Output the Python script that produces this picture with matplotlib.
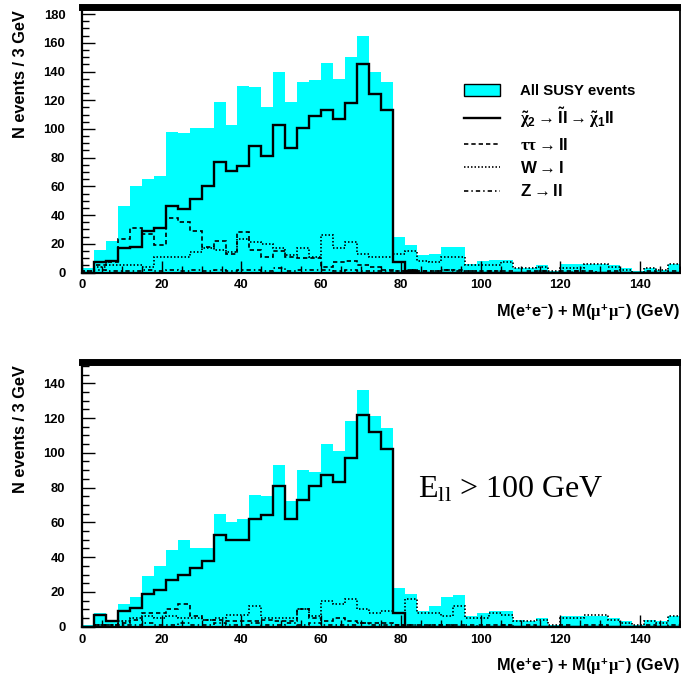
import numpy as np
import matplotlib
matplotlib.use('Agg')
import matplotlib.pyplot as plt
from matplotlib.patches import Patch
from matplotlib.lines import Line2D
from matplotlib.ticker import MultipleLocator

plt.rcParams['font.family'] = ['Liberation Sans', 'DejaVu Sans']
plt.rcParams['font.weight'] = 'bold'
plt.rcParams['mathtext.fontset'] = 'custom'
plt.rcParams['mathtext.rm'] = 'Liberation Sans:bold'
plt.rcParams['mathtext.bf'] = 'Liberation Sans:bold'
plt.rcParams['mathtext.it'] = 'Liberation Serif'
plt.rcParams['mathtext.sf'] = 'Liberation Sans:bold'

# ---------------- data (50 bins of 3 GeV, 0-150 GeV) ----------------
bin_width = 3
n_bins = 50

# Top panel: all events
top_all_susy = [3, 16, 22, 46, 60, 65, 67, 98, 97, 101, 101, 119, 103, 130, 129, 115, 140, 119, 133, 134,
                146, 135, 150, 165, 140, 133, 25, 19, 12, 13, 18, 18, 6, 8, 9, 9, 3, 3, 5, 1,
                6, 6, 6, 6, 5, 3, 1, 3, 2, 6]
top_chi2 = [0, 7, 8, 17, 18, 29, 31, 46, 44, 51, 60, 77, 71, 74, 88, 81, 103, 87, 101, 109,
            113, 107, 118, 145, 124, 113, 7, 1, 0, 0, 0, 0, 0, 0, 0, 0, 0, 0, 0, 0,
            0, 0, 0, 0, 0, 0, 0, 0, 0, 0]
top_tautau = [1, 5, 7, 23, 31, 27, 19, 38, 35, 29, 18, 22, 13, 28, 16, 11, 15, 11, 10, 10,
              4, 7, 8, 5, 4, 2, 1, 2, 1, 1, 2, 2, 1, 1, 1, 1, 0, 1, 1, 0,
              1, 1, 1, 0, 1, 0, 0, 1, 0, 1]
top_w = [1, 4, 5, 5, 5, 4, 11, 11, 11, 14, 17, 16, 14, 23, 21, 20, 17, 12, 17, 11,
         26, 17, 21, 13, 11, 11, 13, 15, 8, 7, 11, 11, 5, 5, 5, 7, 3, 3, 4, 1,
         3, 3, 6, 6, 4, 2, 0, 3, 2, 6]
top_z = [0, 2, 1, 1, 1, 2, 1, 2, 1, 2, 1, 2, 1, 2, 2, 1, 3, 1, 2, 2,
         2, 1, 2, 1, 1, 1, 1, 2, 1, 1, 2, 1, 1, 0, 1, 0, 0, 0, 1, 0,
         0, 1, 0, 0, 0, 0, 0, 0, 0, 0]

# Bottom panel: E_ll > 100 GeV
bot_all_susy = [1, 8, 4, 13, 17, 29, 35, 44, 50, 45, 45, 65, 60, 62, 76, 75, 93, 72, 90, 89,
                105, 101, 118, 136, 121, 114, 22, 19, 9, 12, 17, 18, 6, 8, 9, 9, 4, 3, 5, 1,
                6, 6, 6, 6, 5, 3, 1, 4, 3, 6]
bot_chi2 = [0, 7, 3, 9, 11, 19, 21, 27, 30, 34, 38, 53, 50, 50, 62, 64, 81, 62, 73, 81,
            87, 83, 97, 122, 112, 102, 8, 0, 0, 0, 0, 0, 0, 0, 0, 0, 0, 0, 0, 0,
            0, 0, 0, 0, 0, 0, 0, 0, 0, 0]
bot_tautau = [0, 1, 1, 2, 4, 8, 8, 10, 13, 6, 4, 4, 3, 3, 3, 4, 3, 3, 10, 5,
              3, 5, 3, 2, 2, 2, 1, 1, 1, 1, 1, 1, 0, 1, 1, 1, 0, 1, 0, 0,
              1, 0, 1, 1, 0, 0, 0, 1, 0, 1]
bot_w = [0, 1, 1, 3, 5, 6, 5, 6, 5, 5, 4, 5, 7, 7, 12, 5, 5, 5, 10, 6,
         15, 13, 16, 10, 8, 9, 8, 16, 8, 8, 6, 12, 5, 5, 8, 7, 3, 3, 4, 1,
         5, 5, 7, 7, 4, 2, 1, 3, 2, 6]
bot_z = [0, 1, 1, 1, 1, 2, 1, 1, 2, 1, 1, 2, 1, 1, 2, 1, 1, 2, 1, 2,
         1, 1, 1, 2, 1, 1, 1, 1, 0, 1, 1, 0, 1, 0, 0, 1, 0, 0, 0, 0,
         0, 0, 0, 0, 0, 0, 0, 0, 0, 0]

legend_labels = ['All SUSY events',
                 r'$\tilde{\chi}_{\mathbf{2}} \rightarrow \mathbf{\tilde{l}l} \rightarrow \tilde{\chi}_{\mathbf{1}}\mathbf{ll}$',
                 r'$\tau\tau \rightarrow \mathbf{ll}$',
                 r'$\mathbf{W} \rightarrow \mathbf{l}$',
                 r'$\mathbf{Z} \rightarrow \mathbf{ll}$']
xlabel = r'M(e$^{\mathbf{+}}$e$^{\mathbf{-}}$) + M($\mu^{\mathbf{+}}\mu^{\mathbf{-}}$) (GeV)'
ylabel = 'N events / 3 GeV'
annotation = r'E$_{\mathregular{ll}}$ > 100 GeV'

edges = np.arange(n_bins + 1) * bin_width

CYAN = '#00FFFF'
STY_SOLID = dict(color='black', lw=1.7, linestyle='-')
STY_DASH = dict(color='black', lw=1.2, linestyle=(0, (2.6, 1.8)))
STY_DOT = dict(color='black', lw=1.2, linestyle=(0, (0.9, 1.2)))
STY_DDOT = dict(color='black', lw=1.2, linestyle=(0, (2.6, 1.8, 0.9, 1.8)))

W, H = 681, 681
fig = plt.figure(figsize=(W / 100, H / 100), dpi=100)

def px_axes(left, right, top, bottom):
    return fig.add_axes([left / W, 1 - bottom / H, (right - left) / W, (bottom - top) / H])

ax1 = px_axes(82, 680, 6.5, 272.5)
ax2 = px_axes(82, 680, 361.5, 626.7)

def draw_panel(ax, allv, chi2, tt, w, z, ymax):
    ax.stairs(allv, edges, fill=True, color=CYAN, lw=0)
    ax.stairs(w, edges, baseline=0, **STY_DOT)
    ax.stairs(z, edges, baseline=0, **STY_DDOT)
    ax.stairs(tt, edges, baseline=0, **STY_DASH)
    ax.stairs(chi2, edges, baseline=0, **STY_SOLID)
    ax.set_xlim(0, 150)
    ax.set_ylim(0, ymax)
    ax.xaxis.set_major_locator(MultipleLocator(20))
    ax.xaxis.set_minor_locator(MultipleLocator(5))
    ax.yaxis.set_major_locator(MultipleLocator(20))
    ax.yaxis.set_minor_locator(MultipleLocator(5))
    ax.tick_params(axis='both', which='both', direction='in', top=False, right=False,
                   labelsize=9.4, width=1.0)
    ax.tick_params(axis='both', which='major', length=9)
    ax.tick_params(axis='both', which='minor', length=5)
    ax.tick_params(axis='y', which='major', pad=12)
    ax.tick_params(axis='x', which='major', pad=5)
    for lab in ax.get_xticklabels() + ax.get_yticklabels():
        lab.set_fontweight('bold')
    ax.spines['top'].set_linewidth(5)
    ax.spines['left'].set_linewidth(1.6)
    ax.spines['bottom'].set_linewidth(1.6)
    ax.spines['right'].set_linewidth(1.3)
    ax.set_xlabel(xlabel, fontsize=11.8, fontweight='bold', loc='right')
    ax.xaxis.set_label_coords(1.0, -0.112)
    ax.set_ylabel(ylabel, fontsize=11.8, fontweight='bold', loc='top')
    ax.yaxis.set_label_coords(-0.09, 0.985)

draw_panel(ax1, top_all_susy, top_chi2, top_tautau, top_w, top_z, 185.3)
draw_panel(ax2, bot_all_susy, bot_chi2, bot_tautau, bot_w, bot_z, 152.5)

handles = [Patch(facecolor=CYAN, edgecolor='black', lw=1.0),
           Line2D([], [], **STY_SOLID),
           Line2D([], [], **STY_DASH),
           Line2D([], [], **STY_DOT),
           Line2D([], [], **STY_DDOT)]
leg = ax1.legend(handles, legend_labels, loc='upper left',
                 bbox_to_anchor=(464 / W, 1 - 84 / H), bbox_transform=fig.transFigure,
                 frameon=False, handlelength=2.4, handleheight=0.87,
                 handletextpad=1.3, labelspacing=0.47, borderpad=0, borderaxespad=0,
                 prop={'weight': 'bold', 'size': 10.8})
for t in leg.get_texts()[1:]:
    t.set_fontsize(12.2)

ax2.text((418 - 82) / 598, (626.7 - 497) / 265.2, annotation, transform=ax2.transAxes,
         fontsize=23, family='Liberation Serif', fontweight='normal',
         ha='left', va='baseline')

fig.savefig('out.png', dpi=100)
